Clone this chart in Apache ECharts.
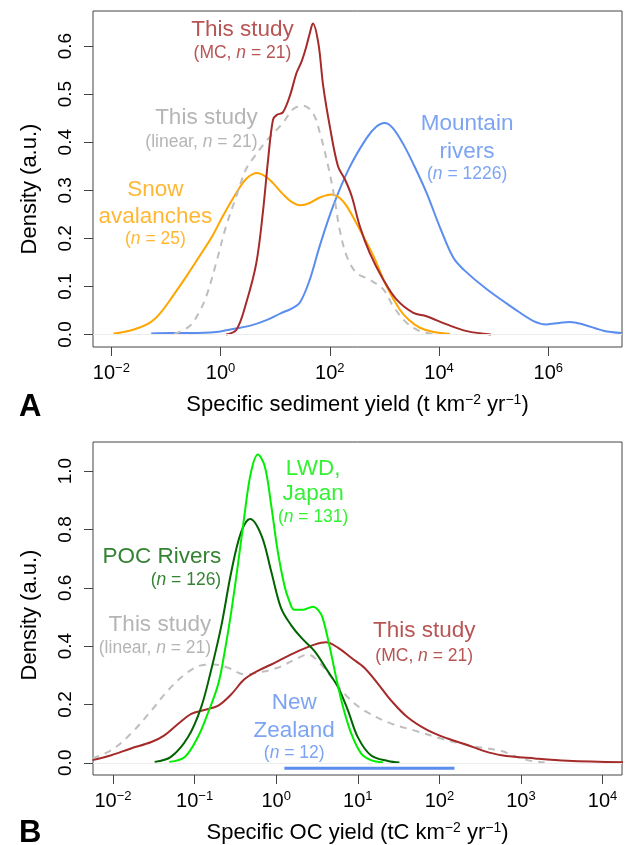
<!DOCTYPE html>
<html>
<head>
<meta charset="utf-8">
<script src="https://cdn.jsdelivr.net/npm/echarts@6/dist/echarts.min.js"></script>
<style>
  html, body { margin: 0; padding: 0; background: #fff; }
  #chart { width: 625px; height: 845px; }
</style>
</head>
<body>
<div id="chart"></div>
<script>
// x values are log10 of the yield, y values are density (a.u.)
const sedimentTicks = [-2, 0, 2, 4, 6];
const ocTicks = [-2, -1, 0, 1, 2, 3, 4];
const densityTicksA = [0, 0.1, 0.2, 0.3, 0.4, 0.5, 0.6];
const densityTicksB = [0, 0.2, 0.4, 0.6, 0.8, 1.0];

// panel A: specific sediment yield
const sedRivers = [
  [-1.27, 0.002], [-0.9, 0.003], [-0.57, 0.003], [-0.08, 0.005], [0.2, 0.011], [0.53, 0.018],
  [0.84, 0.030], [1.1, 0.044], [1.3, 0.054], [1.45, 0.066], [1.63, 0.113], [1.82, 0.186],
  [2.06, 0.267], [2.35, 0.345], [2.67, 0.408], [2.85, 0.432], [3.0, 0.440], [3.15, 0.430],
  [3.35, 0.395], [3.55, 0.350], [3.77, 0.295], [4.02, 0.222], [4.26, 0.160], [4.45, 0.135],
  [4.875, 0.094], [5.36, 0.055], [5.73, 0.028], [5.97, 0.021], [6.2, 0.024], [6.39, 0.026],
  [6.64, 0.021], [7.01, 0.008], [7.35, 0.003]
];
const sedSnow = [
  [-1.96, 0.002], [-1.6, 0.010], [-1.3, 0.024], [-1.1, 0.045], [-0.875, 0.080], [-0.62, 0.122],
  [-0.385, 0.163], [-0.15, 0.205], [0.04, 0.246], [0.29, 0.295], [0.48, 0.325], [0.67, 0.336],
  [0.82, 0.329], [0.96, 0.315], [1.15, 0.291], [1.3, 0.276], [1.46, 0.269], [1.62, 0.273],
  [1.8, 0.284], [2.03, 0.291], [2.18, 0.284], [2.31, 0.267], [2.55, 0.218], [2.8, 0.163],
  [3.04, 0.100], [3.28, 0.052], [3.45, 0.030], [3.65, 0.014], [3.9, 0.005], [4.2, 0.001]
];
const sedLinear = [
  [-0.85, 0.001], [-0.57, 0.017], [-0.4, 0.045], [-0.26, 0.080], [-0.08, 0.149], [0.1, 0.225],
  [0.29, 0.288], [0.47, 0.345], [0.62, 0.370], [0.84, 0.403], [1.14, 0.440], [1.33, 0.469],
  [1.51, 0.476], [1.69, 0.461], [1.82, 0.419], [1.97, 0.350], [2.09, 0.281], [2.18, 0.218],
  [2.31, 0.163], [2.49, 0.128], [2.73, 0.114], [2.98, 0.094], [3.16, 0.059], [3.41, 0.024],
  [3.65, 0.007], [3.9, 0.001]
];
const sedMC = [
  [0.1, 0.000], [0.29, 0.010], [0.47, 0.066], [0.655, 0.149], [0.78, 0.260], [0.87, 0.364],
  [0.96, 0.447], [1.03, 0.457], [1.14, 0.462], [1.27, 0.497], [1.39, 0.544], [1.48, 0.567],
  [1.56, 0.595], [1.63, 0.625], [1.69, 0.647], [1.79, 0.606], [1.88, 0.516], [2.0, 0.433],
  [2.15, 0.350], [2.28, 0.322], [2.4, 0.288], [2.55, 0.225], [2.73, 0.170], [2.98, 0.114],
  [3.22, 0.073], [3.53, 0.045], [3.77, 0.038], [4.14, 0.021], [4.51, 0.007], [4.95, 0.000]
];

// panel B: specific OC yield
const ocLWD = [
  [-1.31, 0.003], [-1.12, 0.020], [-0.96, 0.088], [-0.84, 0.168], [-0.71, 0.270], [-0.63, 0.383],
  [-0.55, 0.519], [-0.47, 0.677], [-0.39, 0.847], [-0.31, 0.995], [-0.225, 1.057], [-0.14, 1.017],
  [-0.06, 0.881], [0.02, 0.723], [0.1, 0.609], [0.16, 0.555], [0.22, 0.525], [0.33, 0.525],
  [0.45, 0.535], [0.52, 0.522], [0.57, 0.496], [0.65, 0.405], [0.735, 0.292], [0.82, 0.190],
  [0.92, 0.100], [1.04, 0.032], [1.16, 0.009], [1.31, 0.001]
];
const ocPOC = [
  [-1.49, 0.003], [-1.29, 0.020], [-1.08, 0.088], [-0.92, 0.190], [-0.8, 0.315], [-0.67, 0.473],
  [-0.55, 0.655], [-0.43, 0.791], [-0.32, 0.836], [-0.18, 0.779], [-0.06, 0.655], [0.06, 0.530],
  [0.18, 0.473], [0.31, 0.428], [0.47, 0.383], [0.63, 0.315], [0.76, 0.258], [0.88, 0.179],
  [1.0, 0.088], [1.16, 0.026], [1.37, 0.006], [1.51, 0.001]
];
const ocLinear = [
  [-2.25, 0.015], [-2.02, 0.043], [-1.78, 0.100], [-1.53, 0.179], [-1.33, 0.247], [-1.12, 0.303],
  [-0.92, 0.334], [-0.76, 0.337], [-0.59, 0.326], [-0.39, 0.303], [-0.225, 0.309], [0.02, 0.326],
  [0.27, 0.360], [0.39, 0.371], [0.55, 0.337], [0.71, 0.281], [0.88, 0.224], [1.08, 0.179],
  [1.41, 0.134], [1.69, 0.111], [2.02, 0.083], [2.35, 0.060], [2.76, 0.040], [2.95, 0.020],
  [3.08, 0.009], [3.29, 0.001]
];
const ocMC = [
  [-2.25, 0.009], [-2.02, 0.026], [-1.78, 0.049], [-1.53, 0.071], [-1.37, 0.094], [-1.2, 0.134],
  [-1.04, 0.168], [-0.88, 0.181], [-0.71, 0.196], [-0.55, 0.235], [-0.39, 0.286], [-0.225, 0.315],
  [-0.06, 0.337], [0.1, 0.360], [0.27, 0.383], [0.47, 0.405], [0.61, 0.413], [0.76, 0.394],
  [0.92, 0.360], [1.08, 0.326], [1.25, 0.270], [1.41, 0.213], [1.61, 0.156], [1.86, 0.111],
  [2.1, 0.083], [2.35, 0.060], [2.55, 0.040], [2.76, 0.026], [3.17, 0.015], [3.57, 0.007],
  [4.25, 0.002]
];
// New Zealand range (log10 tC km-2 yr-1)
const nzRange = [0.1, 2.185];

const FONT = "'Liberation Sans', Arial, Helvetica, sans-serif";
const RED = '#A52A2A';
const ORANGE = '#FFA500';
const GRAY_LINE = '#BEBEBE';
const GRAY_TEXT = '#A3A3A3';
const BLUE = '#5B8DEF';
const DKGREEN = '#006400';
const LIME = '#00EE00';
const BIG = 22.5;
const SMALL = 17.5;

function expLabel(v) {
  const n = Math.round(v);
  return '{b|10}{s|' + (n < 0 ? '\u2212' + (-n) : n) + '}';
}

function xAxis(gridIndex, min, max, ticks, name) {
  return {
    type: 'value', gridIndex: gridIndex, min: min, max: max,
    axisLine: { show: false, onZero: false },
    axisTick: { show: true, inside: false, length: 9, customValues: ticks, lineStyle: { color: '#444', width: 1 } },
    axisLabel: {
      customValues: ticks, margin: 15, formatter: expLabel,
      rich: {
        b: { fontSize: 20, fontFamily: FONT, color: '#000', lineHeight: 22 },
        s: { fontSize: 13, fontFamily: FONT, color: '#000', lineHeight: 12, verticalAlign: 'top' }
      }
    },
    splitLine: { show: false },
    name: name, nameLocation: 'middle', nameGap: 46,
    nameTextStyle: {
      rich: {
        t: { fontSize: 22, fontFamily: FONT, color: '#000', lineHeight: 24 },
        s: { fontSize: 14, fontFamily: FONT, color: '#000', lineHeight: 13, verticalAlign: 'top' }
      }
    }
  };
}

function yAxis(gridIndex, min, max, ticks, shift) {
  return {
    type: 'value', gridIndex: gridIndex, min: min, max: max,
    axisLine: { show: false, onZero: false },
    axisTick: { show: true, inside: false, length: 9, customValues: ticks, lineStyle: { color: '#444', width: 1 } },
    axisLabel: {
      customValues: ticks, rotate: 90, margin: 18, fontSize: 19, fontFamily: FONT, color: '#000',
      formatter: v => v.toFixed(1)
    },
    splitLine: { show: false },
    name: 'Density (a.u.)', nameLocation: 'middle', nameGap: 52, nameRotate: 90,
    nameTextStyle: { fontSize: 22, fontFamily: FONT, color: '#000', padding: [0, shift, 0, 0] }
  };
}

function curve(data, g, color, dashed) {
  return {
    type: 'line', xAxisIndex: g, yAxisIndex: g, data: data, showSymbol: false, smooth: 0.35,
    silent: true, animation: false,
    lineStyle: { color: color, width: 2, type: dashed ? [7, 6] : 'solid' }
  };
}

const annotations = [
  { g: 0, at: [0.40, 0.634], text: 'This study', color: RED, size: BIG },
  { g: 0, at: [0.40, 0.586], text: '(MC, {i|n} = 21)', color: RED, size: SMALL },
  { g: 0, at: [0.679, 0.451], text: 'This study', color: GRAY_TEXT, size: BIG, align: 'right' },
  { g: 0, at: [0.679, 0.401], text: '(linear, {i|n} = 21)', color: GRAY_TEXT, size: SMALL, align: 'right' },
  { g: 0, at: [-1.193, 0.301], text: 'Snow', color: ORANGE, size: BIG },
  { g: 0, at: [-1.193, 0.245], text: 'avalanches', color: ORANGE, size: BIG },
  { g: 0, at: [-1.193, 0.198], text: '({i|n} = 25)', color: ORANGE, size: SMALL },
  { g: 0, at: [4.514, 0.439], text: 'Mountain', color: BLUE, size: BIG },
  { g: 0, at: [4.514, 0.380], text: 'rivers', color: BLUE, size: BIG },
  { g: 0, at: [4.514, 0.333], text: '({i|n} = 1226)', color: BLUE, size: SMALL },
  { g: 1, at: [0.453, 1.008], text: 'LWD,', color: LIME, size: BIG },
  { g: 1, at: [0.453, 0.921], text: 'Japan', color: LIME, size: BIG },
  { g: 1, at: [0.453, 0.842], text: '({i|n} = 131)', color: LIME, size: SMALL },
  { g: 1, at: [-0.674, 0.706], text: 'POC Rivers', color: DKGREEN, size: BIG, align: 'right' },
  { g: 1, at: [-0.674, 0.626], text: '({i|n} = 126)', color: DKGREEN, size: SMALL, align: 'right' },
  { g: 1, at: [-0.797, 0.473], text: 'This study', color: GRAY_TEXT, size: BIG, align: 'right' },
  { g: 1, at: [-0.797, 0.394], text: '(linear, {i|n} = 21)', color: GRAY_TEXT, size: SMALL, align: 'right' },
  { g: 1, at: [0.221, 0.207], text: 'New', color: BLUE, size: BIG },
  { g: 1, at: [0.221, 0.111], text: 'Zealand', color: BLUE, size: BIG },
  { g: 1, at: [0.221, 0.032], text: '({i|n} = 12)', color: BLUE, size: SMALL },
  { g: 1, at: [1.814, 0.451], text: 'This study', color: RED, size: BIG },
  { g: 1, at: [1.814, 0.366], text: '(MC, {i|n} = 21)', color: RED, size: SMALL }
];

function labelSeries(g) {
  return {
    type: 'scatter', xAxisIndex: g, yAxisIndex: g, symbolSize: 0, silent: true, animation: false,
    z: 10,
    data: annotations.filter(a => a.g === g).map(a => ({
      value: a.at,
      txt: a.text,
      label: {
        show: true, position: 'inside', align: a.align || 'center', verticalAlign: 'middle',
        color: a.color, fontSize: a.size, fontFamily: FONT,
        rich: { i: { fontStyle: 'italic', color: a.color, fontSize: a.size, fontFamily: FONT } }
      }
    })),
    label: { show: true, formatter: p => p.data.txt }
  };
}

const zeroLine = {
  silent: true, symbol: 'none', label: { show: false }, animation: false,
  lineStyle: { color: '#ECECEC', type: 'solid', width: 1 },
  data: [{ yAxis: 0 }]
};

const riversA = curve(sedRivers, 0, BLUE);
riversA.markLine = zeroLine;
const mcB = curve(ocMC, 1, RED);
mcB.markLine = zeroLine;

const chart = echarts.init(document.getElementById('chart'), null, { renderer: 'canvas' });
chart.setOption({
  backgroundColor: '#fff',
  animation: false,
  grid: [
    { left: 93, top: 11, width: 529, height: 336, show: true, borderColor: '#444', borderWidth: 1, backgroundColor: 'transparent' },
    { left: 93, top: 442, width: 529, height: 336, show: true, borderColor: '#444', borderWidth: 1, backgroundColor: 'transparent' }
  ],
  xAxis: [
    xAxis(0, -2.336, 7.35, sedimentTicks, '{t|Specific sediment yield (t km}{s|\u22122}{t| yr}{s|\u22121}{t|)}'),
    xAxis(1, -2.245, 4.238, ocTicks, '{t|Specific OC yield (tC km}{s|\u22122}{t| yr}{s|\u22121}{t|)}')
  ],
  yAxis: [
    yAxis(0, -0.026, 0.673, densityTicksA, 20),
    yAxis(1, -0.042, 1.10, densityTicksB, 13)
  ],
  graphic: [
    { type: 'text', left: 19, top: 392, style: { text: 'A', font: 'bold 31px ' + FONT, fill: '#000' } },
    { type: 'text', left: 19, top: 818, style: { text: 'B', font: 'bold 31px ' + FONT, fill: '#000' } }
  ],
  series: [
    riversA,
    curve(sedSnow, 0, ORANGE),
    curve(sedLinear, 0, GRAY_LINE, true),
    curve(sedMC, 0, RED),
    labelSeries(0),
    curve(ocLinear, 1, GRAY_LINE, true),
    mcB,
    curve(ocPOC, 1, DKGREEN),
    curve(ocLWD, 1, LIME),
    {
      type: 'line', xAxisIndex: 1, yAxisIndex: 1, showSymbol: false, silent: true, animation: false,
      data: [[nzRange[0], -0.019], [nzRange[1], -0.019]],
      lineStyle: { color: BLUE, width: 3 }
    },
    labelSeries(1)
  ]
});
</script>
</body>
</html>
